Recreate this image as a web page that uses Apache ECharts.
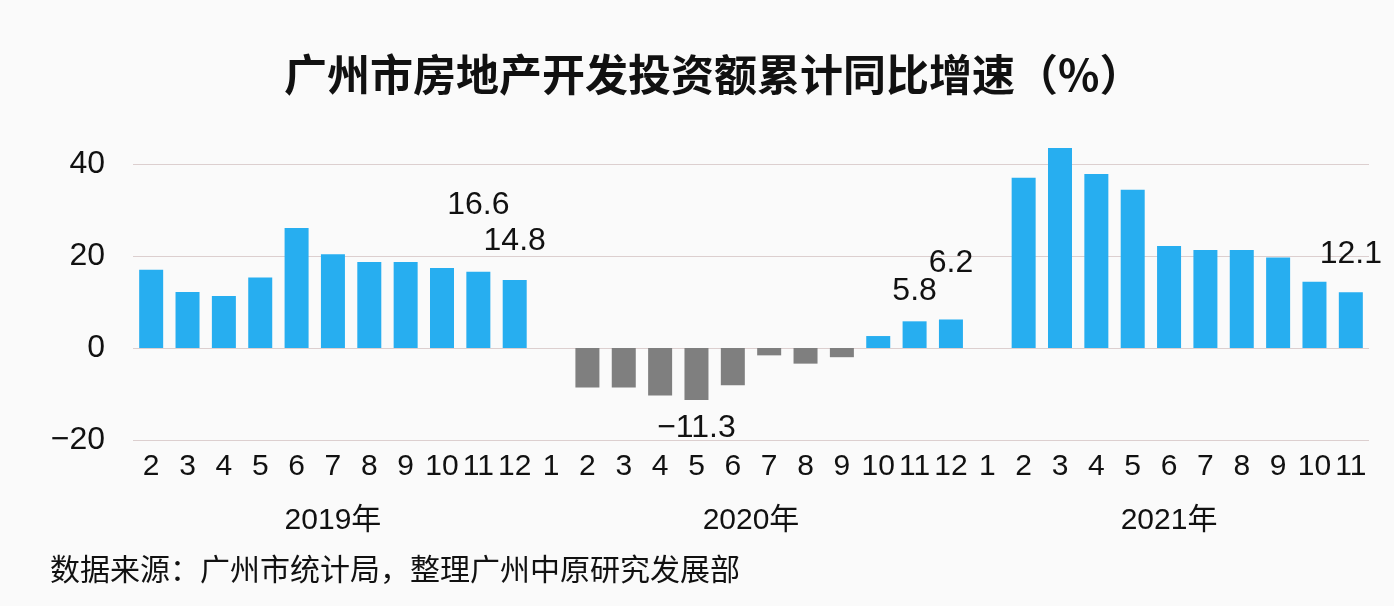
<!DOCTYPE html>
<html>
<head>
<meta charset="utf-8">
<script src="https://cdn.jsdelivr.net/npm/echarts@6/dist/echarts.min.js"></script>
<style>
  html, body { margin: 0; padding: 0; background: #fafafa; }
  #chart { width: 1394px; height: 606px; }
</style>
</head>
<body>
<div id="chart"></div>
<script>
// ---- data ----
const months2019 = ['2','3','4','5','6','7','8','9','10','11','12'];
const months2020 = ['1','2','3','4','5','6','7','8','9','10','11','12'];
const months2021 = ['1','2','3','4','5','6','7','8','9','10','11'];
const values2019 = [17.0, 12.2, 11.3, 15.3, 26.1, 20.4, 18.7, 18.7, 17.4, 16.6, 14.8];
const values2020 = [null, -8.6, -8.6, -10.3, -11.3, -8.1, -1.6, -3.4, -2.0, 2.6, 5.8, 6.2];
const values2021 = [null, 37.0, 43.5, 37.8, 34.4, 22.2, 21.3, 21.3, 19.7, 14.4, 12.1];
const yearNames = ['2019年', '2020年', '2021年'];
const yTicks = { min: -20, max: 40, interval: 20 };
const titleText = '广州市房地产开发投资额累计同比增速（%）';
const sourceText = '数据来源：广州市统计局，整理广州中原研究发展部';
// values that carry a visible data label (index in the flattened list)
const labelledIndices = [9, 10, 15, 21, 22, 33];

// ---- label placement (style only) ----
const labelPlacement = {
  9:  { position: 'top', distance: 50 },
  10: { position: 'top', distance: 23 },
  15: { position: 'bottom', distance: 12 },
  21: { position: 'top', distance: 14 },
  22: { position: 'top', distance: 40 },
  33: { position: 'top', distance: 22 }
};

const categories = months2019.concat(months2020, months2021);
const values = values2019.concat(values2020, values2021);
const groupSizes = [months2019.length, months2020.length, months2021.length];

const BLUE = '#27aef0';
const GREY = '#7f7f7f';
const NUM_FONT = "'Liberation Sans', Arial, 'Noto Sans CJK SC', sans-serif";
const CJK_FONT = "'Noto Sans CJK SC', 'Liberation Sans', sans-serif";

const seriesData = values.map((v, i) => {
  const item = { value: v, itemStyle: { color: v !== null && v < 0 ? GREY : BLUE } };
  if (labelledIndices.includes(i)) {
    const p = labelPlacement[i];
    item.label = {
      show: true,
      position: p.position,
      distance: p.distance,
      offset: p.offset || [0, 0],
      formatter: (v < 0 ? '\u2212' + Math.abs(v).toFixed(1) : v.toFixed(1)),
      fontSize: 32,
      fontFamily: NUM_FONT,
      color: '#111'
    };
  }
  return item;
});

const chart = echarts.init(document.getElementById('chart'), null, { renderer: 'canvas' });
const option = {
  backgroundColor: '#fafafa',
  animation: false,
  title: {
    text: titleText,
    left: 279,
    top: 48,
    textStyle: { fontFamily: CJK_FONT, fontSize: 43, fontWeight: 'bold', color: '#111' }
  },
  grid: { left: 133, right: 25, top: 164, bottom: 166, containLabel: false },
  xAxis: {
    type: 'category',
    data: categories,
    axisLine: { show: false },
    axisTick: { show: false },
    axisLabel: {
      interval: 0,
      margin: 12,
      fontSize: 30,
      fontFamily: NUM_FONT,
      color: '#111'
    }
  },
  yAxis: {
    type: 'value',
    min: yTicks.min,
    max: yTicks.max,
    interval: yTicks.interval,
    axisLine: { show: false },
    axisTick: { show: false },
    axisLabel: {
      margin: 28,
      fontSize: 32,
      fontFamily: NUM_FONT,
      color: '#111',
      formatter: v => (v < 0 ? '\u2212' + Math.abs(v) : String(v))
    },
    splitLine: { show: true, lineStyle: { color: '#dccfcf', width: 1 } }
  },
  series: [{
    type: 'bar',
    data: seriesData,
    barWidth: 24,
    clip: false,
    label: { show: false }
  }]
};
chart.setOption(option);

// year group labels, positioned with the category axis scale
const graphics = [];
let start = 0;
groupSizes.forEach((n, g) => {
  const first = chart.convertToPixel({ xAxisIndex: 0 }, start);
  const last = chart.convertToPixel({ xAxisIndex: 0 }, start + n - 1);
  graphics.push({
    type: 'text',
    x: (first + last) / 2,
    y: 521,
    style: {
      text: yearNames[g],
      fontSize: 30,
      fontFamily: NUM_FONT,
      fill: '#111',
      align: 'center',
      verticalAlign: 'middle'
    }
  });
  start += n;
});
graphics.push({
  type: 'text',
  x: 50,
  y: 569,
  style: {
    text: sourceText,
    fontSize: 30,
    fontFamily: CJK_FONT,
    fill: '#111',
    align: 'left',
    verticalAlign: 'middle'
  }
});
chart.setOption({ graphic: graphics });
</script>
</body>
</html>
